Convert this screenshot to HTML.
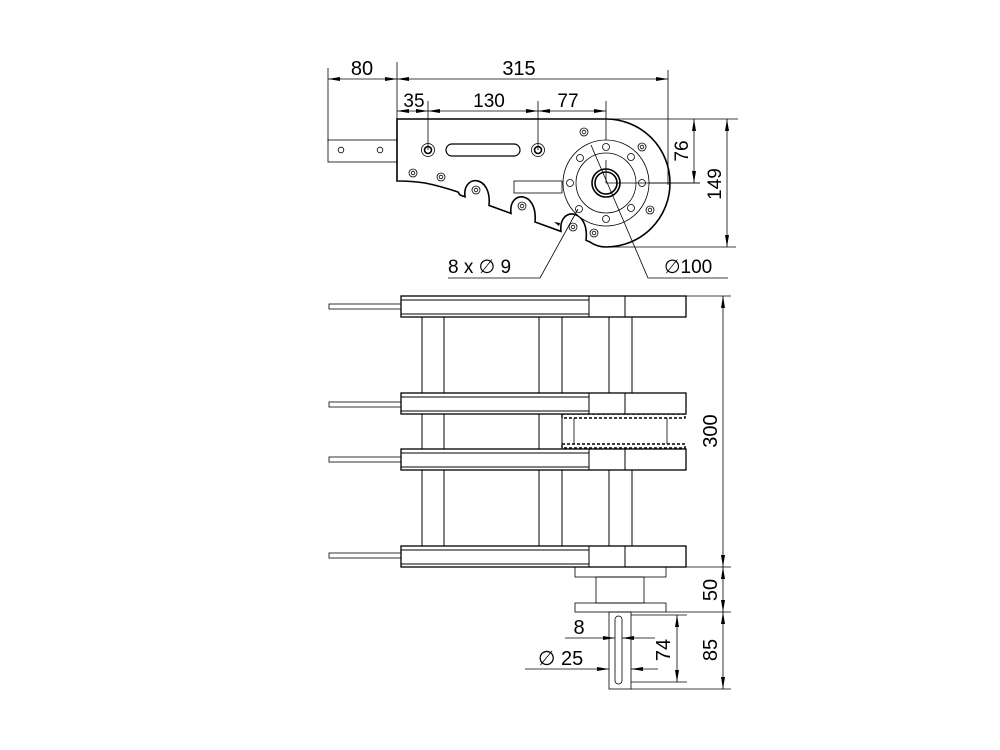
<!DOCTYPE html>
<html><head><meta charset="utf-8"><style>
html,body{margin:0;padding:0;background:#fff;}
svg{display:block;}
text{font-family:"Liberation Sans",Arial,sans-serif;fill:#000;}
</style></head><body>
<svg width="1000" height="750" viewBox="0 0 1000 750" xmlns="http://www.w3.org/2000/svg">
<defs>
<marker id="a" viewBox="0 0 12 4" refX="12" refY="2" markerWidth="12" markerHeight="4" orient="auto-start-reverse" markerUnits="userSpaceOnUse"><path d="M0,0 L12,2 L0,4 Z" fill="#000"/></marker>
</defs>
<g fill="none" stroke="#000" stroke-width="0.8">
<line x1="328" y1="68" x2="328" y2="142"/>
<line x1="397" y1="62" x2="397" y2="120"/>
<line x1="668" y1="70" x2="668" y2="185"/>
<line x1="328" y1="79" x2="397" y2="79" marker-start="url(#a)" marker-end="url(#a)"/>
<line x1="397" y1="79" x2="668" y2="79" marker-start="url(#a)" marker-end="url(#a)"/>
<line x1="428" y1="101" x2="428" y2="150"/>
<line x1="538" y1="101" x2="538" y2="150"/>
<line x1="606" y1="101" x2="606" y2="183"/>
<line x1="397" y1="111" x2="428" y2="111" marker-start="url(#a)" marker-end="url(#a)"/>
<line x1="428" y1="111" x2="538" y2="111" marker-start="url(#a)" marker-end="url(#a)"/>
<line x1="538" y1="111" x2="606" y2="111" marker-start="url(#a)" marker-end="url(#a)"/>
<line x1="606" y1="119" x2="738" y2="119"/>
<line x1="606" y1="183" x2="700" y2="183"/>
<line x1="606" y1="247" x2="736" y2="247"/>
<line x1="694" y1="119" x2="694" y2="183" marker-start="url(#a)" marker-end="url(#a)"/>
<line x1="727" y1="119" x2="727" y2="247" marker-start="url(#a)" marker-end="url(#a)"/>

<rect x="328" y="140" width="69" height="22"/>
<circle cx="341" cy="150" r="2.8"/><circle cx="380" cy="150" r="2.8"/>

<path stroke-width="1.6" d="M397,119 H606 A64,64 0 0 1 606,247 Q597,247 590,242 L586,240.3 C590,208 558,206 561,231.4 L535,222 C538,190 508,190 511,213.4 L489,205.4 C492,174 462,174 465,196.8 L460,195 L458,192 Q440,186 425,183 Q412,181 397,181 Z"/>
<circle cx="428" cy="150" r="6.5"/><circle cx="428" cy="150" r="3.5" stroke-width="1.6"/>
<circle cx="538" cy="150" r="6.5"/><circle cx="538" cy="150" r="3.5" stroke-width="1.6"/>
<rect x="446" y="144" width="74" height="12" rx="6" stroke-width="1.2"/>
<rect x="514" y="181" width="48" height="12"/>
<g>
<circle cx="584" cy="132" r="4"/><circle cx="584" cy="132" r="1.8"/>
<circle cx="642" cy="147" r="4"/><circle cx="642" cy="147" r="1.8"/>
<circle cx="650" cy="210" r="4"/><circle cx="650" cy="210" r="1.8"/>
<circle cx="594" cy="233" r="4"/><circle cx="594" cy="233" r="1.8"/>
<circle cx="413" cy="173" r="4"/><circle cx="413" cy="173" r="1.8"/>
<circle cx="441" cy="177" r="4"/><circle cx="441" cy="177" r="1.8"/>
<circle cx="476" cy="190" r="4"/><circle cx="476" cy="190" r="1.8"/>
<circle cx="522" cy="206" r="4"/><circle cx="522" cy="206" r="1.8"/>
<circle cx="573" cy="227" r="4"/><circle cx="573" cy="227" r="1.8"/>
</g>
<circle cx="606" cy="183" r="43" fill="#fff"/>
<circle cx="606" cy="183" r="30"/>
<circle cx="606" cy="183" r="14" stroke-width="1.6"/>
<circle cx="606" cy="183" r="11" stroke-width="1.6"/>
<circle cx="606" cy="147" r="3.5"/><circle cx="631" cy="157" r="3.5"/>
<circle cx="642" cy="183" r="3.5"/><circle cx="631" cy="208" r="3.5"/>
<circle cx="606" cy="219" r="3.5"/><circle cx="579" cy="209" r="3.5"/>
<circle cx="570" cy="183" r="3.5"/><circle cx="580" cy="158" r="3.5"/>
<line x1="606" y1="183" x2="700" y2="183"/>
<line x1="606" y1="160" x2="606" y2="183"/>
<polyline points="591,145 648,278 728,278"/>
<polyline points="578,209 540,278 448,278"/>
</g>
<path d="M554,222 l6,1 l-1,3 z" fill="#000"/>
<text x="362" y="75" font-size="20" text-anchor="middle">80</text>
<text x="519" y="75" font-size="20" text-anchor="middle">315</text>
<text x="414" y="107" font-size="19" text-anchor="middle">35</text>
<text x="489" y="107" font-size="19" text-anchor="middle">130</text>
<text x="568" y="107" font-size="19" text-anchor="middle">77</text>
<text transform="translate(688,151) rotate(-90)" font-size="19" text-anchor="middle">76</text>
<text transform="translate(721,184) rotate(-90)" font-size="19" text-anchor="middle">149</text>
<text x="448" y="273" font-size="19">8 x &#8709; 9</text>
<text x="664" y="273" font-size="19">&#8709;100</text>

<g fill="none" stroke="#000" stroke-width="0.8">
<g stroke-width="1">
<line x1="422" y1="317" x2="422" y2="546"/><line x1="444" y1="317" x2="444" y2="546"/>
<line x1="539" y1="317" x2="539" y2="546"/><line x1="562" y1="317" x2="562" y2="546"/>
<line x1="609" y1="317" x2="609" y2="393"/><line x1="632" y1="317" x2="632" y2="393"/>
<line x1="609" y1="470" x2="609" y2="546"/><line x1="632" y1="470" x2="632" y2="546"/>
</g>
<rect x="562" y="414" width="123" height="4" stroke-dasharray="3,2" stroke-width="1.4"/>
<rect x="562" y="444" width="123" height="4" stroke-dasharray="3,2" stroke-width="1.4"/>
<line x1="562" y1="418" x2="562" y2="444"/><line x1="574" y1="418" x2="574" y2="444"/>
<line x1="667" y1="418" x2="667" y2="444"/>
<g fill="#fff" stroke-width="1.3">
<rect x="401" y="296" width="285" height="21"/>
<rect x="401" y="393" width="285" height="21"/>
<rect x="401" y="449" width="285" height="21"/>
<rect x="401" y="546" width="285" height="21"/>
</g>
<g stroke-width="1">
<line x1="401" y1="300" x2="589" y2="300"/><line x1="401" y1="314" x2="589" y2="314"/>
<line x1="589" y1="296" x2="589" y2="317"/><line x1="625" y1="296" x2="625" y2="317"/>
<line x1="401" y1="397" x2="589" y2="397"/><line x1="401" y1="411" x2="589" y2="411"/>
<line x1="589" y1="393" x2="589" y2="414"/><line x1="625" y1="393" x2="625" y2="414"/>
<line x1="401" y1="453" x2="589" y2="453"/><line x1="401" y1="467" x2="589" y2="467"/>
<line x1="589" y1="449" x2="589" y2="470"/><line x1="625" y1="449" x2="625" y2="470"/>
<line x1="401" y1="550" x2="589" y2="550"/><line x1="401" y1="564" x2="589" y2="564"/>
<line x1="589" y1="546" x2="589" y2="567"/><line x1="625" y1="546" x2="625" y2="567"/>
</g>
<rect x="329" y="304" width="72" height="5"/>
<rect x="329" y="402" width="72" height="5"/>
<rect x="329" y="457" width="72" height="5"/>
<rect x="329" y="553" width="72" height="5"/>
<rect x="575" y="567" width="91" height="10"/>
<rect x="596" y="577" width="48" height="26"/>
<rect x="575" y="603" width="91" height="9"/>
<rect x="609" y="612" width="22" height="77"/>
<rect x="615" y="616" width="7" height="68" rx="3.5"/>
<line x1="686" y1="296" x2="731" y2="296"/>
<line x1="686" y1="567" x2="731" y2="567"/>
<line x1="666" y1="612" x2="731" y2="612"/>
<line x1="631" y1="689" x2="731" y2="689"/>
<line x1="723" y1="296" x2="723" y2="567" marker-start="url(#a)" marker-end="url(#a)"/>
<line x1="723" y1="567" x2="723" y2="612" marker-start="url(#a)" marker-end="url(#a)"/>
<line x1="723" y1="612" x2="723" y2="689" marker-start="url(#a)" marker-end="url(#a)"/>
<line x1="631" y1="615" x2="687" y2="615"/>
<line x1="631" y1="682" x2="687" y2="682"/>
<line x1="677" y1="615" x2="677" y2="682" marker-start="url(#a)" marker-end="url(#a)"/>
<line x1="565" y1="638" x2="615" y2="638" marker-end="url(#a)"/>
<line x1="622" y1="638" x2="655" y2="638" marker-start="url(#a)"/>
<line x1="525" y1="669" x2="609" y2="669" marker-end="url(#a)"/>
<line x1="631" y1="669" x2="658" y2="669" marker-start="url(#a)"/>
</g>
<text transform="translate(717,431) rotate(-90)" font-size="20" text-anchor="middle">300</text>
<text transform="translate(717,590) rotate(-90)" font-size="20" text-anchor="middle">50</text>
<text transform="translate(717,650) rotate(-90)" font-size="20" text-anchor="middle">85</text>
<text transform="translate(670,650) rotate(-90)" font-size="20" text-anchor="middle">74</text>
<text x="579" y="634" font-size="20" text-anchor="middle">8</text>
<text x="538" y="665" font-size="20">&#8709; 25</text>
</svg>
</body></html>
